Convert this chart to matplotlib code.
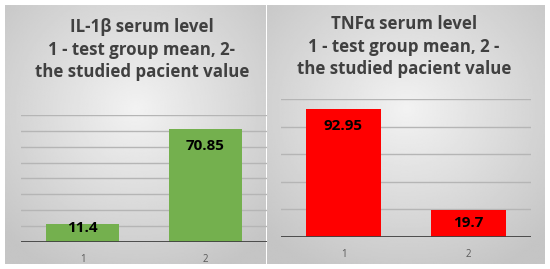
import matplotlib.pyplot as plt
import numpy as np

cats = ['1', '2']
il1b = [11.4, 70.85]
tnfa = [92.95, 19.7]
il1b_labels = ['11.4', '70.85']
tnfa_labels = ['92.95', '19.7']

title_l = 'IL-1\u03b2 serum level\n1 - test group mean, 2-\nthe studied pacient value'
title_r = 'TNF\u03b1 serum level\n1 - test group mean, 2 -\nthe studied pacient value'

plt.rcParams['font.family'] = ['Open Sans', 'DejaVu Sans']

fig = plt.figure(figsize=(5.5, 2.69), dpi=100)
fig.patch.set_facecolor('white')


def panel_bg(x0, x1, y0, y1):
    # radial grey gradient like the Excel chart area
    w, h = 200, 200
    yy, xx = np.mgrid[0:h, 0:w]
    r = np.sqrt(((xx - w / 2) / (w / 2)) ** 2 + ((yy - h * 0.4) / (h / 2)) ** 2)
    v = 0.95 - 0.18 * np.clip(r, 0, 1.4) / 1.4
    bg = fig.add_axes([x0 / 550, 1 - y1 / 269, (x1 - x0) / 550, (y1 - y0) / 269])
    bg.imshow(v, cmap='gray', vmin=0, vmax=1, aspect='auto', interpolation='bilinear')
    bg.set_axis_off()
    return bg


panel_bg(5, 266, 5, 264)
panel_bg(267, 545, 5, 264)


def bar_panel(rect, vals, labels, color, ymax, step, title, tx, ty, width):
    ax = fig.add_axes(rect)
    ax.patch.set_alpha(0)
    x = np.arange(1, len(vals) + 1)
    ax.bar(x, vals, width=width, color=color, zorder=3)
    ax.set_xlim(0.5, len(vals) + 0.5)
    ax.set_ylim(0, ymax)
    for g in np.arange(step, ymax + 1, step):
        ax.axhline(g, color='#b5b5b5', lw=1, zorder=1)
    ax.axhline(0, color='#404040', lw=2, zorder=4)
    ppu = rect[3] * 269 / ymax  # pixels per data unit
    for xi, v, lab in zip(x, vals, labels):
        ly = max(v - 17 / ppu, 14 / ppu)
        ax.text(xi, ly, lab, ha='center', va='center',
                fontsize=11, fontweight='bold', color='black', zorder=5)
    for s in ax.spines.values():
        s.set_visible(False)
    ax.set_yticks([])
    ax.set_xticks(x)
    ax.set_xticklabels(cats, fontsize=7, color='#595959')
    ax.tick_params(axis='x', length=0, pad=9)
    fig.text(tx / 550, 1 - ty / 269, title, ha='center', va='top',
             fontsize=12.2, fontweight='bold', color='#404040', linespacing=1.33)
    return ax


bar_panel([21 / 550, 1 - 241.7 / 269, 246 / 550, (241.7 - 115) / 269],
          il1b, il1b_labels, '#74b04e', 80, 10, title_l, 142, 18, 0.59)
bar_panel([281 / 550, 1 - 236.7 / 269, 250 / 550, (236.7 - 99.3) / 269],
          tnfa, tnfa_labels, '#ff0000', 100, 20, title_r, 404, 15, 0.6)

fig.savefig('out.png', dpi=100, facecolor='white')
